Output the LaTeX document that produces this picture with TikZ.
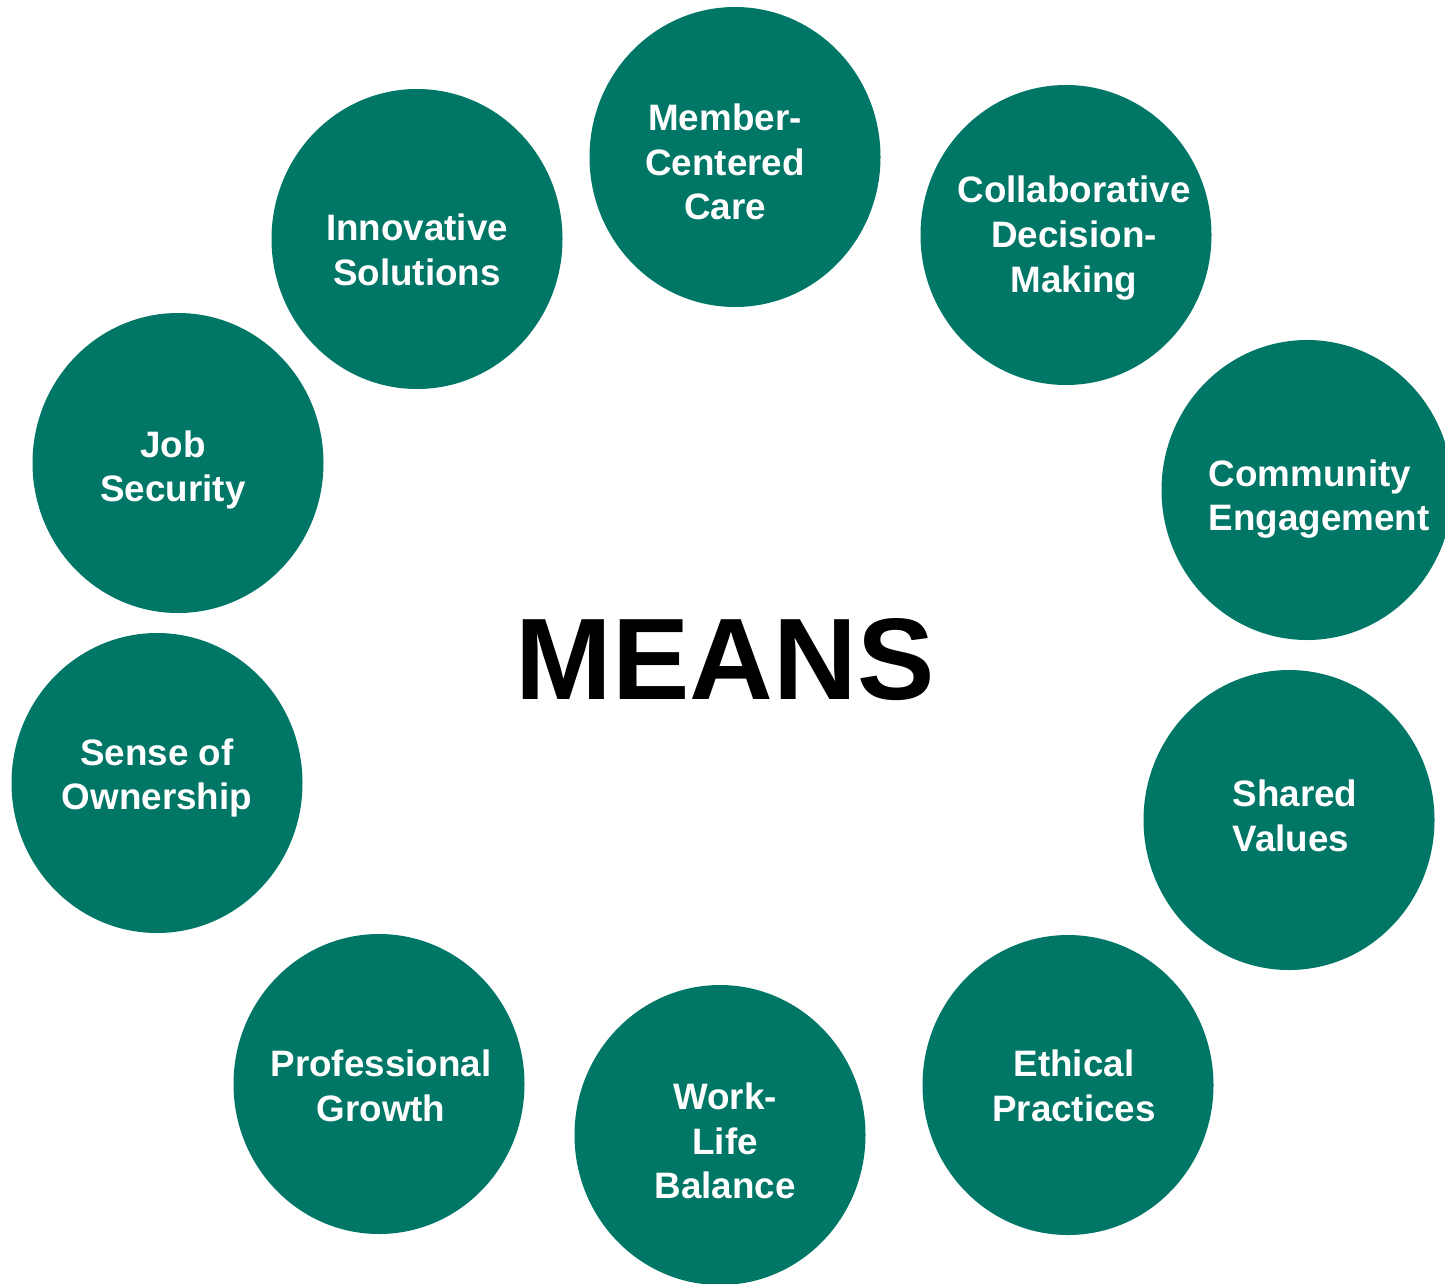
\documentclass[tikz,border=0pt]{standalone}
\usepackage{fontspec}
\setmainfont{Liberation Sans}
\usetikzlibrary{shapes.geometric}
\definecolor{tealfill}{RGB}{0,119,102}
\begin{document}
\begin{tikzpicture}[x=1pt,y=-1pt,
  bubble/.style={ellipse,fill=tealfill,draw=none,minimum width=291pt,minimum height=300pt,inner sep=0pt},
  caption/.style={text=white,font=\fontsize{36.8}{44.8}\selectfont\bfseries,align=center,inner sep=0pt}]
\useasboundingbox (0,0) rectangle (1445,1283);
\clip (0,0) rectangle (1445,1283);
% circles around the ring
\node[bubble] (c1) at (735,157) {};
\node[bubble] (c2) at (1066,235) {};
\node[bubble] (c3) at (1307,490) {};
\node[bubble] (c4) at (1289,820) {};
\node[bubble] (c5) at (1068,1085) {};
\node[bubble] (c6) at (720,1135) {};
\node[bubble] (c7) at (379,1084) {};
\node[bubble] (c8) at (157,783) {};
\node[bubble] (c9) at (178,463) {};
\node[bubble] (c10) at (417,239) {};
% captions
\node[caption] (t1) at (725,162) {Member-\\Centered\\Care};
\node[caption] (t2) at (1074,238) {Collaborative\\Decision-\\Making};
\node[caption,align=left] (t3) at (1319,499) {Community\\Engagement};
\node[caption,align=left] (t4) at (1295,816) {Shared\\Values};
\node[caption] (t5) at (1074,1086) {Ethical\\Practices};
\node[caption] (t6) at (725,1141) {Work-\\Life\\Balance};
\node[caption] (t7) at (381,1086) {Professional\\Growth};
\node[caption] (t8) at (157,778) {Sense of\\Ownership};
\node[caption] (t9) at (173,470) {Job\\Security};
\node[caption] (t10) at (417,250) {Innovative\\Solutions};
% centre title
\node[font=\fontsize{116}{120}\selectfont\bfseries,inner sep=0pt] (title) at (725,660) {MEANS};
\end{tikzpicture}
\end{document}
